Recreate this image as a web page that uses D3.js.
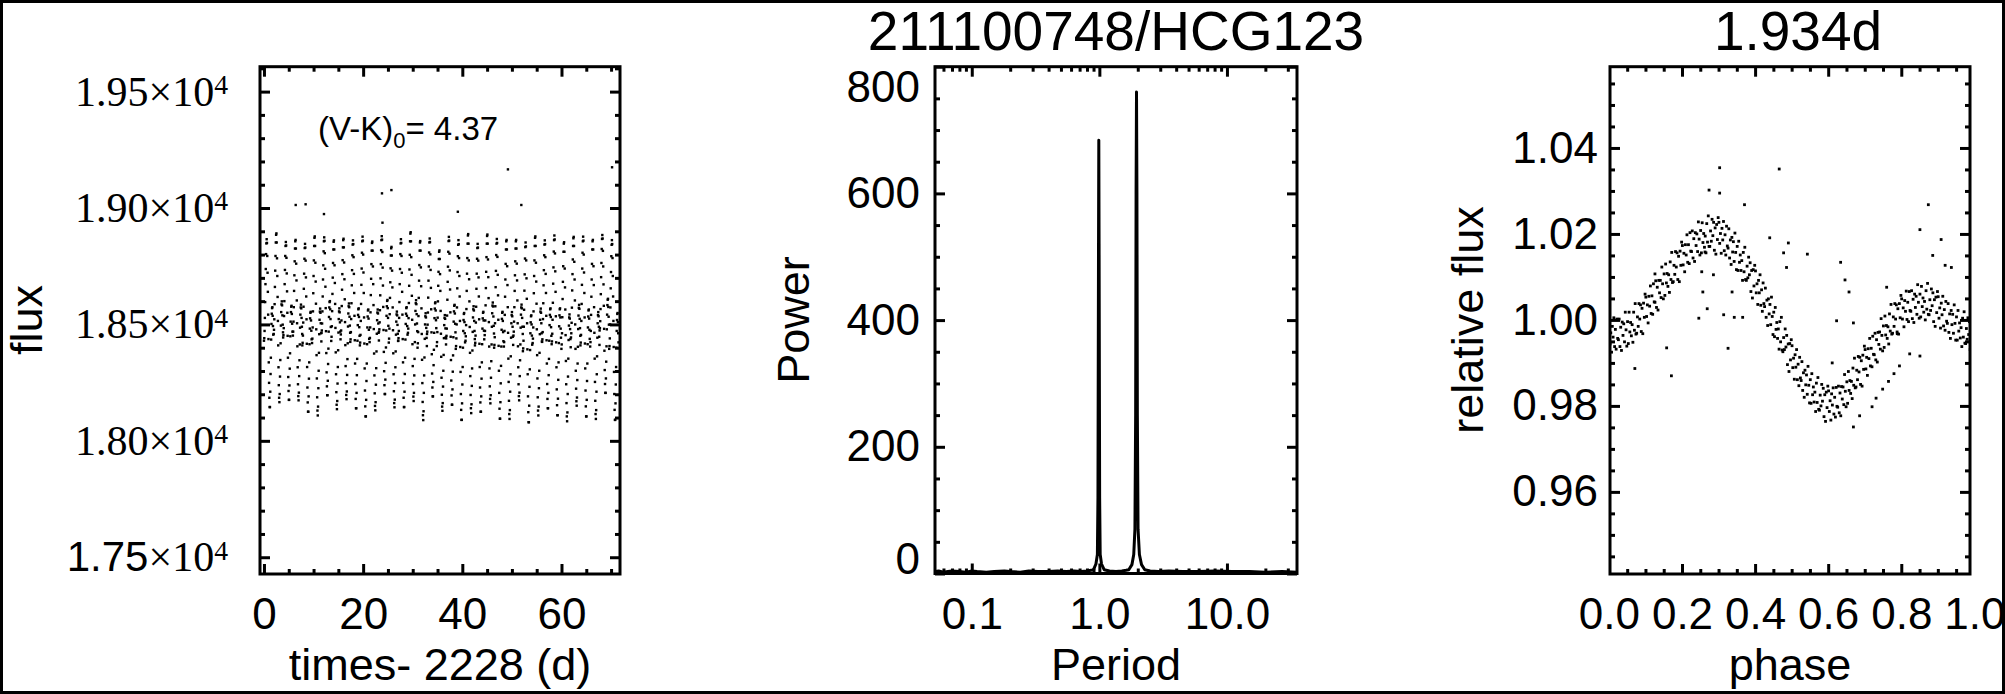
<!DOCTYPE html>
<html><head><meta charset="utf-8">
<script src="https://cdn.jsdelivr.net/npm/d3@7"></script>
<style>
body{margin:0;background:#fff}
svg{display:block}
</style></head><body>
<script>
// ---------------- DATA ----------------
const starTitle = "211100748/HCG123";
const periodTitle = "1.934d";
const colourIndex = "4.37";
const rotPeriod = 1.934;          // days

// light curve, described cycle by cycle: six observed cycle shapes (32 flux samples per cycle, e/s)
const lcCycleTemplates = [
 [18430,18441,18472,18528,18596,18673,18738,18802,18848,18866,18850,18794,18722,18640,18542,18437,18337,18249,18185,18145,18145,18211,18287,18357,18435,18502,18546,18570,18574,18537,18493,18456],
 [18454,18464,18494,18546,18610,18683,18744,18804,18847,18864,18849,18796,18729,18652,18560,18461,18367,18284,18224,18186,18186,18248,18320,18386,18459,18522,18563,18586,18590,18555,18513,18479],
 [18400,18412,18445,18505,18578,18660,18730,18798,18847,18867,18850,18790,18713,18625,18520,18408,18301,18206,18138,18095,18095,18166,18247,18322,18405,18477,18524,18550,18554,18515,18467,18428],
 [18444,18462,18507,18572,18646,18716,18779,18837,18870,18876,18837,18769,18693,18603,18500,18395,18301,18224,18170,18151,18186,18261,18332,18404,18480,18538,18571,18584,18567,18524,18484,18451],
 [18415,18434,18482,18551,18629,18703,18770,18832,18867,18873,18832,18760,18679,18584,18474,18363,18263,18182,18125,18104,18142,18221,18296,18373,18453,18515,18550,18563,18545,18500,18457,18422],
 [18432,18449,18492,18554,18624,18691,18751,18806,18837,18843,18806,18741,18669,18583,18485,18386,18296,18223,18172,18154,18187,18258,18326,18394,18466,18522,18553,18565,18549,18508,18470,18439]];
const lcTemplateShift = [0, 0, 0, 0.5, 0.5, 0.5];     // sampling offset of each shape, in samples
// which shape each of the 37 rotation cycles follows, and that cycle's flux level shift (e/s)
const lcCycleShape = [0,3,1,5,0,4,1,3,5,0,2,3,1,5,0,3,4,1,5,0,2,4,0,3,2,4,5,2,4,0,2,4,3,2,4,1,2];
const lcCycleLevel = [0,15,-10,20,-20,5,10,-15,25,-5,10,-20,15,-10,0,20,-15,5,-25,10,-5,15,-20,10,0,-10,20,-15,5,-5,15,-20,0,10,-10,20,-5];
const lcExtraTime = [6.4, 8.4, 12.1, 23.8, 23.9, 25.7, 39.1, 49.2, 51.9, 70.2];
const lcExtraFlux = [19013, 19016, 18974, 19063, 18937, 19077, 18984, 19166, 19013, 19175];

// periodogram
const pgPeriod = [0.0515,0.055,0.06,0.065,0.07,0.08,0.09,0.1,0.11,0.13,0.15,0.18,0.2,0.24,0.28,0.33,0.4,0.47,0.55,0.63,0.72,0.8,0.86,0.9,0.94,0.965,0.975,0.985,0.99,0.995,1.005,1.015,1.04,1.09,1.2,1.35,1.5,1.62,1.7,1.8,1.86,1.9,1.925,1.94,1.955,1.97,1.985,2.01,2.06,2.14,2.27,2.5,2.9,3.5,4.5,6,8,11,15,20,27,35.4];
const pgPower  = [3,4,2,3,4,3,2,4,3,2,3,4,3,2,4,3,3,4,3,4,3,4,5,6,15,30,120,520,684,520,120,30,15,6,4,3,4,5,6,14,30,70,250,600,760,600,250,70,30,14,6,4,3,4,3,3,4,3,3,2,3,2];

// phase-folded relative flux, one sample per equal phase bin, in phase order
const foldFlux = [
0.9992,0.9944,0.9970,0.9925,0.9985,0.9960,1.0005,0.9938,0.9978,0.9932,1.0002,0.9957,
0.9954,1.0002,0.9938,0.9983,0.9929,0.9995,0.9964,0.9991,0.9949,1.0018,0.9977,0.9939,
0.9996,0.9945,1.0018,0.9972,0.9994,0.9963,0.9989,0.9948,1.0018,0.9976,1.0038,0.9967,
0.9969,1.0007,0.9985,1.0038,1.0002,1.0035,0.9973,1.0027,0.9968,1.0039,1.0006,1.0060,
1.0053,1.0008,1.0035,0.9993,1.0055,1.0032,1.0079,1.0015,1.0056,1.0013,1.0084,1.0042,
1.0041,1.0091,1.0029,1.0076,1.0023,1.0092,1.0063,1.0092,1.0052,1.0123,1.0084,1.0049,
1.0107,1.0057,1.0130,1.0086,1.0108,1.0078,1.0105,1.0064,1.0135,1.0094,1.0157,1.0087,
1.0089,1.0127,1.0106,1.0159,1.0123,1.0156,1.0094,1.0148,1.0089,1.0160,1.0127,1.0181,
1.0173,1.0128,1.0155,1.0112,1.0175,1.0151,1.0198,1.0134,1.0175,1.0131,1.0203,1.0160,
1.0159,1.0207,1.0144,1.0189,1.0136,1.0203,1.0173,1.0200,1.0159,1.0228,1.0188,1.0151,
1.0208,1.0156,1.0226,1.0180,1.0201,1.0169,1.0195,1.0156,1.0224,1.0181,1.0242,1.0171,
1.0171,1.0207,1.0183,1.0234,1.0196,1.0227,1.0162,1.0214,1.0153,1.0222,1.0187,1.0238,
1.0227,1.0178,1.0201,1.0155,1.0213,1.0186,1.0229,1.0161,1.0198,1.0151,1.0218,1.0172,
1.0167,1.0212,1.0144,1.0186,1.0129,1.0192,1.0158,1.0182,1.0136,1.0202,1.0157,1.0117,
1.0171,1.0115,1.0183,1.0134,1.0151,1.0115,1.0138,1.0092,1.0157,1.0112,1.0169,1.0094,
1.0092,1.0125,1.0098,1.0146,1.0105,1.0133,1.0066,1.0115,1.0051,1.0117,1.0079,1.0127,
1.0114,1.0063,1.0084,1.0036,1.0092,1.0063,1.0105,1.0034,1.0070,1.0020,1.0086,1.0038,
1.0031,1.0074,1.0006,1.0046,0.9987,1.0049,1.0014,1.0036,0.9989,1.0053,1.0008,0.9966,
1.0018,0.9961,1.0029,0.9978,0.9994,0.9957,0.9979,0.9932,0.9996,0.9949,1.0006,0.9930,
0.9926,0.9959,0.9931,0.9979,0.9937,0.9964,0.9896,0.9944,0.9880,0.9945,0.9907,0.9954,
0.9940,0.9889,0.9911,0.9862,0.9919,0.9890,0.9931,0.9861,0.9897,0.9847,0.9913,0.9865,
0.9859,0.9903,0.9836,0.9877,0.9820,0.9883,0.9849,0.9872,0.9827,0.9892,0.9848,0.9807,
0.9861,0.9806,0.9875,0.9826,0.9844,0.9809,0.9832,0.9787,0.9853,0.9808,0.9866,0.9792,
0.9790,0.9825,0.9800,0.9850,0.9811,0.9841,0.9775,0.9826,0.9764,0.9832,0.9796,0.9846,
0.9835,0.9787,0.9812,0.9767,0.9828,0.9802,0.9842,0.9781,0.9820,0.9774,0.9843,0.9799,
0.9797,0.9846,0.9784,0.9830,0.9777,0.9845,0.9816,0.9844,0.9803,0.9873,0.9834,0.9798,
0.9856,0.9806,0.9880,0.9836,0.9859,0.9829,0.9857,0.9817,0.9888,0.9848,0.9911,0.9842,
0.9844,0.9883,0.9861,0.9915,0.9879,0.9913,0.9850,0.9905,0.9846,0.9918,0.9885,0.9939,
0.9931,0.9886,0.9913,0.9871,0.9933,0.9910,0.9957,0.9893,0.9934,0.9891,0.9962,0.9920,
0.9919,0.9969,0.9907,0.9954,0.9902,0.9971,0.9943,0.9972,0.9932,1.0003,0.9964,0.9928,
0.9986,0.9936,1.0009,0.9965,0.9987,0.9957,0.9984,0.9944,1.0014,0.9974,1.0036,0.9967,
0.9969,1.0007,0.9985,1.0038,1.0002,1.0035,0.9972,1.0026,0.9967,1.0038,1.0005,1.0057,
1.0049,1.0002,1.0028,0.9984,1.0045,1.0020,1.0067,1.0001,1.0041,0.9996,1.0066,1.0022,
1.0020,1.0068,1.0003,1.0048,0.9994,1.0060,1.0029,1.0055,1.0013,1.0082,1.0041,1.0004,
1.0060,1.0007,1.0078,1.0031,1.0051,1.0018,1.0043,1.0000,1.0068,1.0025,1.0085,1.0013,
1.0012,1.0047,1.0022,1.0072,1.0033,1.0063,0.9996,1.0047,0.9985,1.0053,1.0017,1.0066,
1.0054,1.0004,1.0028,0.9981,1.0039,1.0012,1.0055,0.9986,1.0024,0.9976,1.0043,0.9997,
0.9992,1.0038,0.9971,1.0014,0.9957,1.0022,0.9989,1.0013,0.9969,1.0035,0.9992,0.9953,
1.0007,0.9953,1.0022,0.9974,0.9993,0.9958,0.9982,0.9938,1.0004,0.9960,1.0019,0.9946,
0.9945,0.9980,0.9955,1.0005,0.9966,0.9996,0.9931,0.9982,0.9920,0.9988,0.9952,1.0002];
const foldExtraPhase = [0.303,0.466,0.274,0.303,0.371,0.874,0.851,0.44,0.909,0.491,0.543,0.478,0.634,0.886,0.92,0.937,0.486,0.646,0.657,0.126,0.257,0.269,0.246,0.314,0.343,0.366,0.337,0.623,0.669,0.326,0.158,0.171,0.071,0.76,0.789,0.823,0.851,0.611,0.731,0.749,0.72,0.686,0.669,0.263,0.254,0.286,0.765,0.78,0.795];
const foldExtraFlux  = [1.0354,1.0351,1.0302,1.0295,1.0268,1.0268,1.021,1.0191,1.0187,1.0179,1.0153,1.0156,1.0134,1.015,1.0127,1.0122,1.0122,1.0093,1.0065,1.0107,1.0065,1.0026,1.0004,1.0012,1.0006,1.0006,1.0065,0.9998,0.9993,0.9934,0.9935,0.987,0.9887,1.0076,0.9968,0.9921,0.9916,0.99,0.9818,0.9839,0.9798,0.9777,0.9751,1.0158,1.0112,1.0105,0.9857,0.9875,0.9893];

// tick values
const lcXTicks = [0,20,40,60];
const lcYTicks = [17500,18000,18500,19000,19500];
const pgXTicks = [0.1,1,10];
const pgYTicks = [0,200,400,600,800];
const phXTicks = [0,0.2,0.4,0.6,0.8,1.0];
const phYTicks = [0.96,0.98,1.00,1.02,1.04];

// ---------------- DRAWING ----------------
const SANS = "'Liberation Sans', Arial, Helvetica, sans-serif";
const SERIF = "'Liberation Serif', 'Times New Roman', Times, serif";
const W = 2005, H = 694;
const svg = d3.select("body").append("svg").attr("width", W).attr("height", H)
  .style("font-family", SANS);
svg.append("rect").attr("width", W).attr("height", H).attr("fill", "#fff");

const x1 = d3.scaleLinear().domain([-0.8, 71.8]).range([260, 620]);
const y1 = d3.scaleLinear().domain([17428, 19607]).range([574, 66.7]);
const x2 = d3.scaleLog().domain([0.0515, 35.4]).range([935, 1297]);
const y2 = d3.scaleLinear().domain([0, 800]).range([573.5, 66.7]);
const x3 = d3.scaleLinear().domain([0.003, 0.988]).range([1610, 1970]);
const y3 = d3.scaleLinear().domain([0.9409, 1.0589]).range([574, 66.7]);

const MAJ = 10, MIN = 5, LAB = 44;

function inside(s, v) { const d = s.domain(); return v >= Math.min(d[0], d[1]) - 1e-9 && v <= Math.max(d[0], d[1]) + 1e-9; }

function tickSet(g, axisFn, scale, tr, vals, len) {
  const a = g.append("g").attr("transform", tr)
    .call(axisFn(scale).tickValues(vals.filter(v => inside(scale, v))).tickSize(-len).tickSizeOuter(0).tickFormat(""));
  a.select(".domain").remove();
  a.selectAll(".tick line").attr("stroke", "#000").attr("stroke-width", 3);
  return a;
}

function frame(g, xs, ys, xMaj, xMin, yMaj, yMin) {
  const [X0, X1] = xs.range(); const [Y1, Y0] = ys.range();
  tickSet(g, d3.axisBottom, xs, `translate(0,${Y1})`, xMaj, MAJ);
  tickSet(g, d3.axisBottom, xs, `translate(0,${Y1})`, xMin, MIN);
  tickSet(g, d3.axisTop, xs, `translate(0,${Y0})`, xMaj, MAJ);
  tickSet(g, d3.axisTop, xs, `translate(0,${Y0})`, xMin, MIN);
  tickSet(g, d3.axisLeft, ys, `translate(${X0},0)`, yMaj, MAJ);
  tickSet(g, d3.axisLeft, ys, `translate(${X0},0)`, yMin, MIN);
  tickSet(g, d3.axisRight, ys, `translate(${X1},0)`, yMaj, MAJ);
  tickSet(g, d3.axisRight, ys, `translate(${X1},0)`, yMin, MIN);
  g.append("rect").attr("x", X0).attr("y", Y0).attr("width", X1 - X0).attr("height", Y1 - Y0)
    .attr("fill", "none").attr("stroke", "#000").attr("stroke-width", 3);
}

function labelsX(g, xs, ys, vals, fmt) {
  const a = g.append("g").attr("transform", `translate(0,${ys.range()[0]})`)
    .call(d3.axisBottom(xs).tickValues(vals).tickSize(0).tickPadding(24).tickFormat(fmt));
  a.select(".domain").remove();
  a.attr("font-size", LAB).attr("font-family", SANS);
  a.selectAll("text").attr("fill", "#000");
  return a;
}
function labelsY(g, xs, ys, vals, fmt, pad, size, family) {
  const a = g.append("g").attr("transform", `translate(${xs.range()[0]},0)`)
    .call(d3.axisLeft(ys).tickValues(vals).tickSize(0).tickPadding(pad).tickFormat(fmt));
  a.select(".domain").remove();
  a.attr("font-size", size).attr("font-family", family);
  a.selectAll("text").attr("fill", "#000");
  return a;
}
function clip(id, xs, ys) {
  const [X0, X1] = xs.range(); const [Y1, Y0] = ys.range();
  svg.append("clipPath").attr("id", id).append("rect")
    .attr("x", X0).attr("y", Y0).attr("width", X1 - X0).attr("height", Y1 - Y0);
}
function dots(g, pts, xs, ys, clipId, size) {
  g.append("g").attr("clip-path", `url(#${clipId})`).selectAll("rect").data(pts).join("rect")
    .attr("x", d => xs(d[0]) - size / 2).attr("y", d => ys(d[1]) - size / 2)
    .attr("width", size).attr("height", size).attr("fill", "#000");
}

// ----- Panel 1: light curve -----
const g1 = svg.append("g");
clip("c1", x1, y1);
const lcPts = [];
lcCycleShape.forEach((j, c) => {
  const tpl = lcCycleTemplates[j], n = tpl.length;
  tpl.forEach((f, k) => lcPts.push([(c + (k + lcTemplateShift[j]) / n) * rotPeriod, f + lcCycleLevel[c]]));
});
lcExtraTime.forEach((t, i) => lcPts.push([t, lcExtraFlux[i]]));
dots(g1, lcPts, x1, y1, "c1", 2.4);
frame(g1, x1, y1, lcXTicks, d3.range(5, 75, 5).filter(v => v % 20 !== 0),
      lcYTicks, d3.range(17500, 19700, 100).filter(v => v % 500 !== 0));
labelsX(g1, x1, y1, lcXTicks, d3.format("d"));
const ly = labelsY(g1, x1, y1, lcYTicks, d => "", 32, 42, SERIF);
ly.selectAll("text").each(function (d) {
  const t = d3.select(this);
  const m = t.append("tspan").text((d / 1e4).toFixed(2));
  if (d === 17500) m.attr("font-family", SANS);
  t.append("tspan").text("×10");
  t.append("tspan").attr("dy", "-0.42em").attr("font-size", "0.66em").text("4");
});
g1.append("text").attr("transform", `translate(42,320) rotate(-90)`).attr("text-anchor", "middle")
  .attr("font-size", 45).text("flux");
g1.append("text").attr("x", 440).attr("y", 680).attr("text-anchor", "middle")
  .attr("font-size", 45).text("times- 2228 (d)");
const vk = g1.append("text").attr("x", 318).attr("y", 140).attr("font-size", 33);
vk.append("tspan").text("(V-K)");
vk.append("tspan").attr("font-size", 22).attr("dy", 8).text("0");
vk.append("tspan").attr("dy", -8).text("= " + colourIndex);

// ----- Panel 2: periodogram -----
const g2 = svg.append("g");
clip("c2", x2, y2);
const logMinor = [];
[0.01, 0.1, 1, 10].forEach(dec => { for (let k = 2; k <= 9; k++) logMinor.push(+(k * dec).toPrecision(3)); });
g2.append("path").datum(pgPeriod.map((p, i) => [p, pgPower[i]]))
  .attr("clip-path", "url(#c2)")
  .attr("d", d3.line().x(d => x2(d[0])).y(d => y2(d[1])))
  .attr("fill", "none").attr("stroke", "#000").attr("stroke-width", 3).attr("stroke-linejoin", "round");
frame(g2, x2, y2, pgXTicks, logMinor, pgYTicks, d3.range(50, 800, 50).filter(v => v % 200 !== 0));
labelsX(g2, x2, y2, pgXTicks, d3.format(".1f"));
const l2 = labelsY(g2, x2, y2, pgYTicks, d3.format("d"), 15, LAB, SANS);
l2.selectAll("text").attr("y", d => d === 0 ? -14 : (d === 800 ? 21 : 0));
g2.append("text").attr("transform", `translate(809,320) rotate(-90)`).attr("text-anchor", "middle")
  .attr("font-size", 45).text("Power");
g2.append("text").attr("x", 1116).attr("y", 680).attr("text-anchor", "middle")
  .attr("font-size", 45).text("Period");
svg.append("text").attr("x", 1116).attr("y", 50).attr("text-anchor", "middle")
  .attr("font-size", 55).text(starTitle);

// ----- Panel 3: phase-folded -----
const g3 = svg.append("g");
clip("c3", x3, y3);
const foldPts = foldFlux.map((f, i) => [(i + 0.5) / foldFlux.length, f])
  .concat(foldExtraPhase.map((p, i) => [p, foldExtraFlux[i]]));
dots(g3, foldPts, x3, y3, "c3", 2.8);
frame(g3, x3, y3, phXTicks, d3.range(0.05, 1, 0.05).map(v => +v.toFixed(2)).filter(v => Math.round(v * 100) % 20 !== 0),
      phYTicks, d3.range(0.945, 1.06, 0.005).map(v => +v.toFixed(3)).filter(v => Math.round(v * 1000) % 20 !== 0));
labelsX(g3, x3, y3, phXTicks, d3.format(".1f"));
labelsY(g3, x3, y3, phYTicks, d3.format(".2f"), 12, LAB, SANS);
g3.append("text").attr("transform", `translate(1483,320) rotate(-90)`).attr("text-anchor", "middle")
  .attr("font-size", 45).text("relative flux");
g3.append("text").attr("x", 1790).attr("y", 680).attr("text-anchor", "middle")
  .attr("font-size", 45).text("phase");
svg.append("text").attr("x", 1798).attr("y", 50).attr("text-anchor", "middle")
  .attr("font-size", 55).text(periodTitle);

// outer border
svg.append("rect").attr("x", 1.5).attr("y", 1.5).attr("width", W - 3).attr("height", H - 3)
  .attr("fill", "none").attr("stroke", "#000").attr("stroke-width", 3);
</script>
</body></html>
